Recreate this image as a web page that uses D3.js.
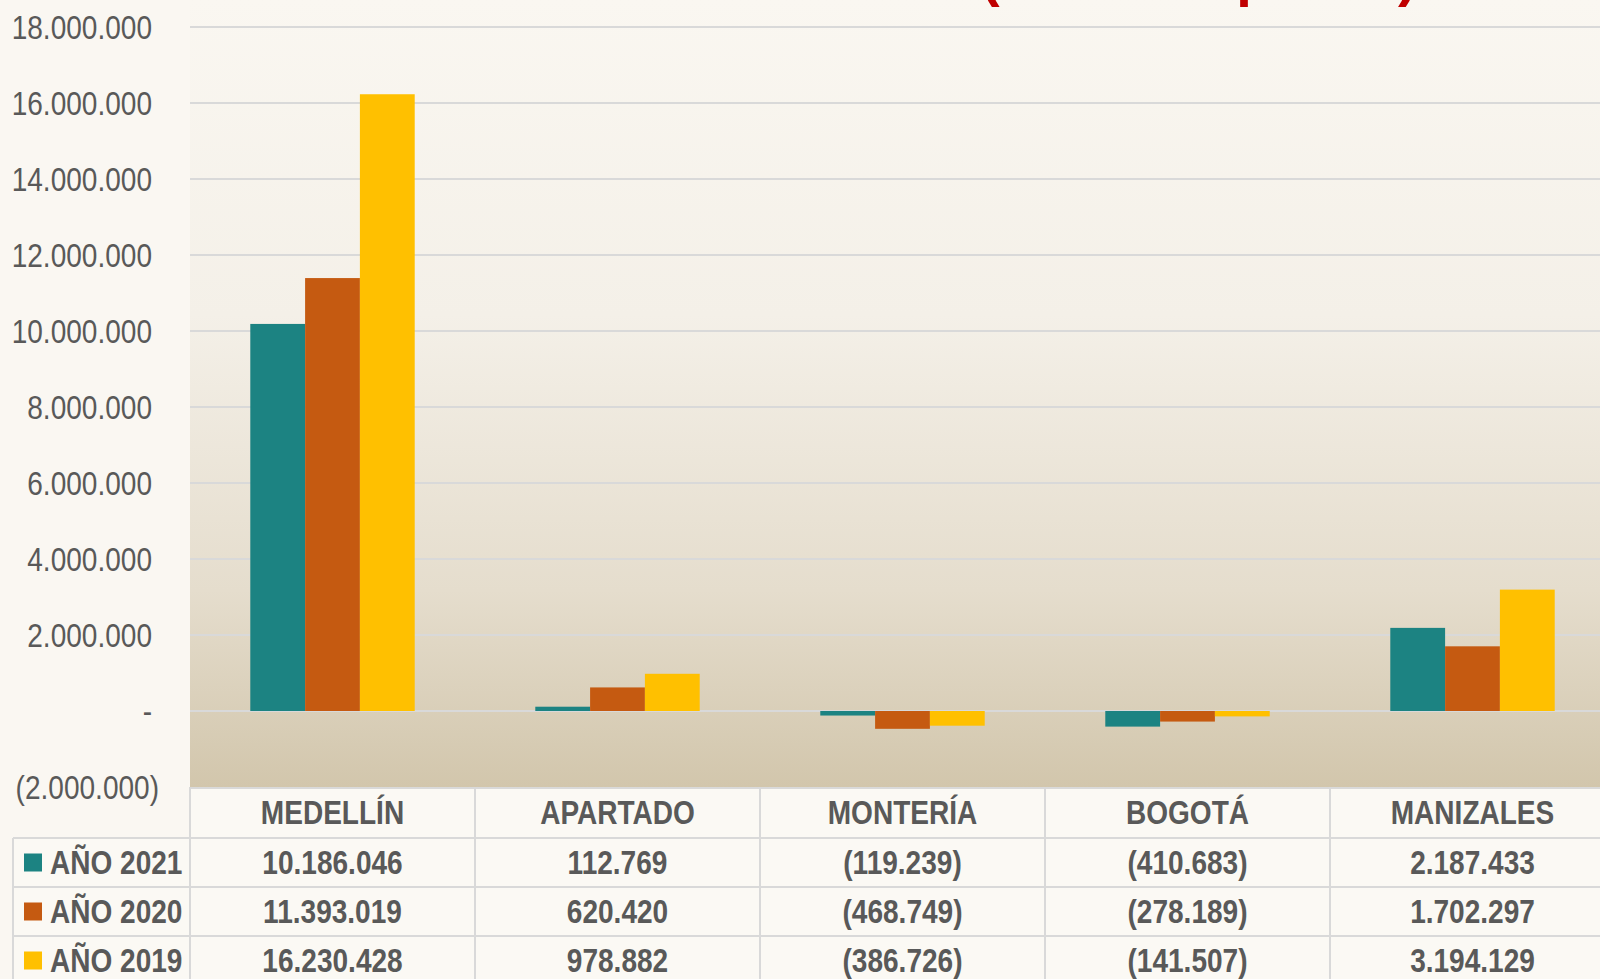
<!DOCTYPE html>
<html>
<head>
<meta charset="utf-8">
<script src="https://cdn.jsdelivr.net/npm/d3@7"></script>
<style>
  html, body { margin: 0; padding: 0; background: #faf7f2; overflow: hidden; }
  svg { display: block; }
  text { font-family: "Liberation Sans", Arial, sans-serif; }
</style>
</head>
<body>
<script>
// chart data
const cities = ["MEDELLÍN", "APARTADO", "MONTERÍA", "BOGOTÁ", "MANIZALES"];
const seriesNames = ["AÑO 2021", "AÑO 2020", "AÑO 2019"];
const year2021 = [10186046, 112769, -119239, -410683, 2187433];
const year2020 = [11393019, 620420, -468749, -278189, 1702297];
const year2019 = [16230428, 978882, -386726, -141507, 3194129];
const yTicks = [-2000000, 0, 2000000, 4000000, 6000000, 8000000, 10000000, 12000000, 14000000, 16000000, 18000000];
const colors = ["#1c8382", "#c55a11", "#ffc000"];
const title = "(Miles de pesos)";

const seriesValues = [year2021, year2020, year2019];

let width = 1600, height = 979;
let plot = {left: 190, right: 1615, top: 27, bottom: 787};
const squeeze = 0.85;   // no Arial Narrow installed, so squeeze Liberation Sans

// place a text with a horizontal squeeze
const narrowAt = (x, y) => `translate(${x},${y}) scale(${squeeze},1)`;

let svg = d3.select("body")
            .append("svg")
            .attr("width", width)
            .attr("height", height);

// plot area gradient
let defs = svg.append("defs");
let grad = defs.append("linearGradient")
    .attr("id", "plotBg")
    .attr("x1", 0).attr("y1", 0).attr("x2", 0).attr("y2", 1);
grad.append("stop").attr("offset", "0%").attr("stop-color", "#faf7f1");
grad.append("stop").attr("offset", "40%").attr("stop-color", "#f4f0e8");
grad.append("stop").attr("offset", "75%").attr("stop-color", "#e5ddcd");
grad.append("stop").attr("offset", "100%").attr("stop-color", "#d2c6ac");

svg.append("rect")
    .attr("x", plot.left).attr("y", 0)
    .attr("width", width - plot.left).attr("height", plot.bottom)
    .attr("fill", "url(#plotBg)");

// red title, cut off by the top edge
svg.append("text")
    .attr("x", 981).attr("y", -5)
    .attr("fill", "#c00000")
    .attr("font-size", 56)
    .attr("font-weight", "bold")
    .text(title);

let yScale = d3.scaleLinear()
    .domain([-2000000, 18000000])
    .range([plot.bottom, plot.top]);

let xScale = d3.scaleBand()
    .domain(cities)
    .range([plot.left, plot.right]);

let xSub = d3.scaleBand()
    .domain(seriesNames)
    .range([0, xScale.bandwidth()])
    .paddingInner(0)
    .paddingOuter(1.1);

// gridlines
svg.append("g")
    .selectAll("line")
    .data(yTicks.filter(t => t > -2000000))
    .enter()
    .append("line")
        .attr("x1", plot.left).attr("x2", width)
        .attr("y1", d => yScale(d)).attr("y2", d => yScale(d))
        .attr("stroke", "#d9d9d9")
        .attr("stroke-width", 2);

// y labels (accounting style)
const fmtNum = n => d3.format(",")(Math.abs(n)).replace(/,/g, ".");
svg.append("g")
    .selectAll("text")
    .data(yTicks)
    .enter()
    .append("text")
        .attr("transform", d => narrowAt(d < 0 ? 159 : 152, yScale(d)))
        .attr("dy", "0.35em")
        .attr("text-anchor", "end")
        .attr("font-size", 33)
        .attr("fill", "#595959")
        .text(d => d === 0 ? "-" : d < 0 ? "(" + fmtNum(d) + ")" : fmtNum(d));

// bars
let groups = svg.append("g")
    .selectAll("g")
    .data(cities)
    .enter()
    .append("g")
        .attr("transform", d => `translate(${xScale(d)},0)`);

groups.selectAll("rect")
    .data((c, i) => seriesNames.map((s, j) => ({series: s, idx: j, value: seriesValues[j][i]})))
    .enter()
    .append("rect")
        .attr("x", d => xSub(d.series))
        .attr("y", d => yScale(Math.max(0, d.value)))
        .attr("width", xSub.bandwidth())
        .attr("height", d => Math.abs(yScale(d.value) - yScale(0)))
        .attr("fill", d => colors[d.idx]);

// data table
let rowH = 49;
let headTop = plot.bottom, headBottom = 838;
let tableLeft = 13;
let rowTops = seriesNames.map((s, i) => headBottom + i * rowH);

let table = svg.append("g");

table.append("rect")
    .attr("x", plot.left).attr("y", headTop)
    .attr("width", width - plot.left).attr("height", headBottom - headTop)
    .attr("fill", "#fbf9f4");
table.append("rect")
    .attr("x", tableLeft).attr("y", headBottom)
    .attr("width", width - tableLeft).attr("height", height - headBottom)
    .attr("fill", "#fbf9f4");

const border = "#d9d9d9";
// horizontal lines
table.append("line")
    .attr("x1", plot.left).attr("x2", width)
    .attr("y1", headTop + 1).attr("y2", headTop + 1)
    .attr("stroke", border).attr("stroke-width", 2);
table.selectAll("line.h")
    .data(rowTops.concat([headBottom + 3 * rowH]))
    .enter()
    .append("line")
        .attr("class", "h")
        .attr("x1", tableLeft).attr("x2", width)
        .attr("y1", d => d).attr("y2", d => d)
        .attr("stroke", border).attr("stroke-width", 2);
// vertical lines
table.append("line")
    .attr("x1", tableLeft).attr("x2", tableLeft)
    .attr("y1", headBottom).attr("y2", height)
    .attr("stroke", border).attr("stroke-width", 2);
table.selectAll("line.v")
    .data(cities)
    .enter()
    .append("line")
        .attr("class", "v")
        .attr("x1", d => xScale(d)).attr("x2", d => xScale(d))
        .attr("y1", headTop).attr("y2", height)
        .attr("stroke", border).attr("stroke-width", 2);

// header
table.selectAll("text.head")
    .data(cities)
    .enter()
    .append("text")
        .attr("class", "head")
        .attr("transform", d => narrowAt(xScale(d) + xScale.bandwidth() / 2, (headTop + headBottom) / 2))
        .attr("dy", "0.36em")
        .attr("text-anchor", "middle")
        .attr("font-size", 33)
        .attr("font-weight", "bold")
        .attr("fill", "#595959")
        .text(d => d);

// rows
seriesNames.forEach((s, j) => {
    let cy = rowTops[j] + rowH / 2;
    table.append("rect")
        .attr("x", 24).attr("y", cy - 9)
        .attr("width", 18).attr("height", 18)
        .attr("fill", colors[j]);
    table.append("text")
        .attr("transform", narrowAt(50, cy))
        .attr("dy", "0.36em")
        .attr("font-size", 33)
        .attr("font-weight", "bold")
        .attr("fill", "#595959")
        .text(s);
    table.selectAll("text.r" + j)
        .data(cities)
        .enter()
        .append("text")
            .attr("transform", d => narrowAt(xScale(d) + xScale.bandwidth() / 2, cy))
            .attr("dy", "0.36em")
            .attr("text-anchor", "middle")
            .attr("font-size", 33)
            .attr("font-weight", "bold")
            .attr("fill", "#595959")
            .text((d, i) => {
                let v = seriesValues[j][i];
                return v < 0 ? "(" + fmtNum(v) + ")" : fmtNum(v);
            });
});
</script>
</body>
</html>
